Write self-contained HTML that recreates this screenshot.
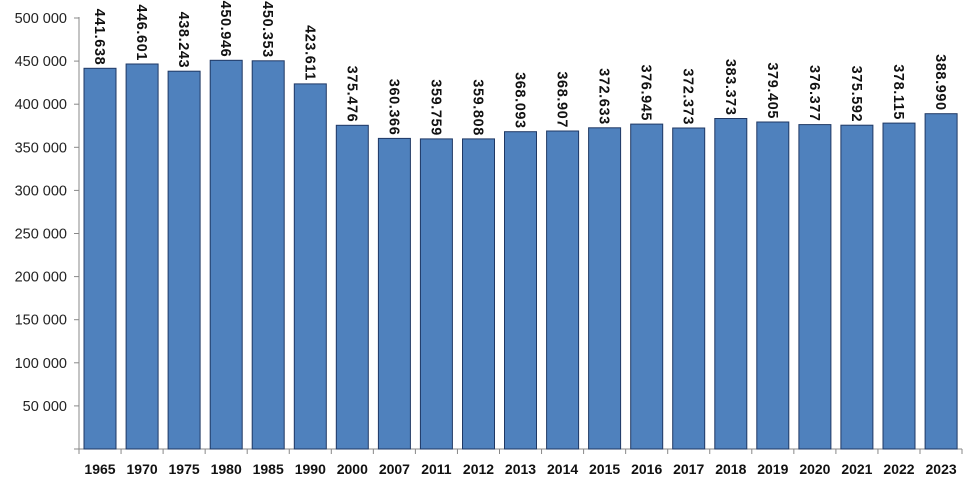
<!DOCTYPE html>
<html><head><meta charset="utf-8"><style>
html,body{margin:0;padding:0;background:#fff}
svg{display:block}
.y{font-family:"Liberation Sans",sans-serif;font-size:14.5px;fill:#222;text-anchor:end}
.x{font-family:"Liberation Sans",sans-serif;font-size:14px;font-weight:bold;fill:#111;text-anchor:middle}
.v{font-family:"Liberation Sans",sans-serif;font-size:14.5px;font-weight:bold;fill:#111;text-anchor:end;letter-spacing:0.6px}
rect{fill:#4f81bd;stroke:#1f3864;stroke-width:1}
line{stroke:#888;stroke-width:1}
</style></head><body>
<svg width="973" height="488" viewBox="0 0 973 488" xmlns="http://www.w3.org/2000/svg">
<line x1="79" y1="17" x2="79" y2="449"/>
<line x1="74" y1="449" x2="962" y2="449"/>
<line x1="74" y1="405.9" x2="79" y2="405.9"/><text class="y" x="67" y="410.9">50 000</text>
<line x1="74" y1="362.8" x2="79" y2="362.8"/><text class="y" x="67" y="367.8">100 000</text>
<line x1="74" y1="319.7" x2="79" y2="319.7"/><text class="y" x="67" y="324.7">150 000</text>
<line x1="74" y1="276.6" x2="79" y2="276.6"/><text class="y" x="67" y="281.6">200 000</text>
<line x1="74" y1="233.5" x2="79" y2="233.5"/><text class="y" x="67" y="238.5">250 000</text>
<line x1="74" y1="190.4" x2="79" y2="190.4"/><text class="y" x="67" y="195.4">300 000</text>
<line x1="74" y1="147.3" x2="79" y2="147.3"/><text class="y" x="67" y="152.3">350 000</text>
<line x1="74" y1="104.2" x2="79" y2="104.2"/><text class="y" x="67" y="109.2">400 000</text>
<line x1="74" y1="61.1" x2="79" y2="61.1"/><text class="y" x="67" y="66.1">450 000</text>
<line x1="74" y1="18" x2="79" y2="18"/><text class="y" x="67" y="23">500 000</text>

<rect x="84.0" y="68.3" width="32" height="380.7"/><text class="x" x="100.0" y="474">1965</text><text class="v" transform="translate(95.0,65.3) rotate(90)">441.638</text>
<rect x="126.1" y="64.0" width="32" height="385.0"/><text class="x" x="142.1" y="474">1970</text><text class="v" transform="translate(137.1,61.0) rotate(90)">446.601</text>
<rect x="168.1" y="71.2" width="32" height="377.8"/><text class="x" x="184.1" y="474">1975</text><text class="v" transform="translate(179.1,68.2) rotate(90)">438.243</text>
<rect x="210.2" y="60.3" width="32" height="388.7"/><text class="x" x="226.2" y="474">1980</text><text class="v" transform="translate(221.2,57.3) rotate(90)">450.946</text>
<rect x="252.2" y="60.8" width="32" height="388.2"/><text class="x" x="268.2" y="474">1985</text><text class="v" transform="translate(263.2,57.8) rotate(90)">450.353</text>
<rect x="294.3" y="83.9" width="32" height="365.1"/><text class="x" x="310.3" y="474">1990</text><text class="v" transform="translate(305.3,80.9) rotate(90)">423.611</text>
<rect x="336.3" y="125.3" width="32" height="323.7"/><text class="x" x="352.3" y="474">2000</text><text class="v" transform="translate(347.3,122.3) rotate(90)">375.476</text>
<rect x="378.4" y="138.4" width="32" height="310.6"/><text class="x" x="394.4" y="474">2007</text><text class="v" transform="translate(389.4,135.4) rotate(90)">360.366</text>
<rect x="420.4" y="138.9" width="32" height="310.1"/><text class="x" x="436.4" y="474">2011</text><text class="v" transform="translate(431.4,135.9) rotate(90)">359.759</text>
<rect x="462.5" y="138.9" width="32" height="310.1"/><text class="x" x="478.5" y="474">2012</text><text class="v" transform="translate(473.5,135.9) rotate(90)">359.808</text>
<rect x="504.5" y="131.7" width="32" height="317.3"/><text class="x" x="520.5" y="474">2013</text><text class="v" transform="translate(515.5,128.7) rotate(90)">368.093</text>
<rect x="546.6" y="131.0" width="32" height="318.0"/><text class="x" x="562.6" y="474">2014</text><text class="v" transform="translate(557.6,128.0) rotate(90)">368.907</text>
<rect x="588.6" y="127.8" width="32" height="321.2"/><text class="x" x="604.6" y="474">2015</text><text class="v" transform="translate(599.6,124.8) rotate(90)">372.633</text>
<rect x="630.7" y="124.1" width="32" height="324.9"/><text class="x" x="646.7" y="474">2016</text><text class="v" transform="translate(641.7,121.1) rotate(90)">376.945</text>
<rect x="672.7" y="128.0" width="32" height="321.0"/><text class="x" x="688.7" y="474">2017</text><text class="v" transform="translate(683.7,125.0) rotate(90)">372.373</text>
<rect x="714.8" y="118.5" width="32" height="330.5"/><text class="x" x="730.8" y="474">2018</text><text class="v" transform="translate(725.8,115.5) rotate(90)">383.373</text>
<rect x="756.8" y="122.0" width="32" height="327.0"/><text class="x" x="772.8" y="474">2019</text><text class="v" transform="translate(767.8,119.0) rotate(90)">379.405</text>
<rect x="798.9" y="124.6" width="32" height="324.4"/><text class="x" x="814.9" y="474">2020</text><text class="v" transform="translate(809.9,121.6) rotate(90)">376.377</text>
<rect x="840.9" y="125.2" width="32" height="323.8"/><text class="x" x="856.9" y="474">2021</text><text class="v" transform="translate(851.9,122.2) rotate(90)">375.592</text>
<rect x="883.0" y="123.1" width="32" height="325.9"/><text class="x" x="899.0" y="474">2022</text><text class="v" transform="translate(894.0,120.1) rotate(90)">378.115</text>
<rect x="925.1" y="113.7" width="32" height="335.3"/><text class="x" x="941.1" y="474">2023</text><text class="v" transform="translate(936.1,110.7) rotate(90)">388.990</text>

<line x1="79" y1="449" x2="79" y2="454"/><line x1="121.05" y1="449" x2="121.05" y2="454"/><line x1="163.1" y1="449" x2="163.1" y2="454"/><line x1="205.15" y1="449" x2="205.15" y2="454"/><line x1="247.2" y1="449" x2="247.2" y2="454"/><line x1="289.25" y1="449" x2="289.25" y2="454"/><line x1="331.3" y1="449" x2="331.3" y2="454"/><line x1="373.35" y1="449" x2="373.35" y2="454"/><line x1="415.4" y1="449" x2="415.4" y2="454"/><line x1="457.45" y1="449" x2="457.45" y2="454"/><line x1="499.5" y1="449" x2="499.5" y2="454"/><line x1="541.55" y1="449" x2="541.55" y2="454"/><line x1="583.6" y1="449" x2="583.6" y2="454"/><line x1="625.65" y1="449" x2="625.65" y2="454"/><line x1="667.7" y1="449" x2="667.7" y2="454"/><line x1="709.75" y1="449" x2="709.75" y2="454"/><line x1="751.8" y1="449" x2="751.8" y2="454"/><line x1="793.85" y1="449" x2="793.85" y2="454"/><line x1="835.9" y1="449" x2="835.9" y2="454"/><line x1="877.95" y1="449" x2="877.95" y2="454"/><line x1="920" y1="449" x2="920" y2="454"/><line x1="962" y1="449" x2="962" y2="454"/>
</svg>
</body></html>
